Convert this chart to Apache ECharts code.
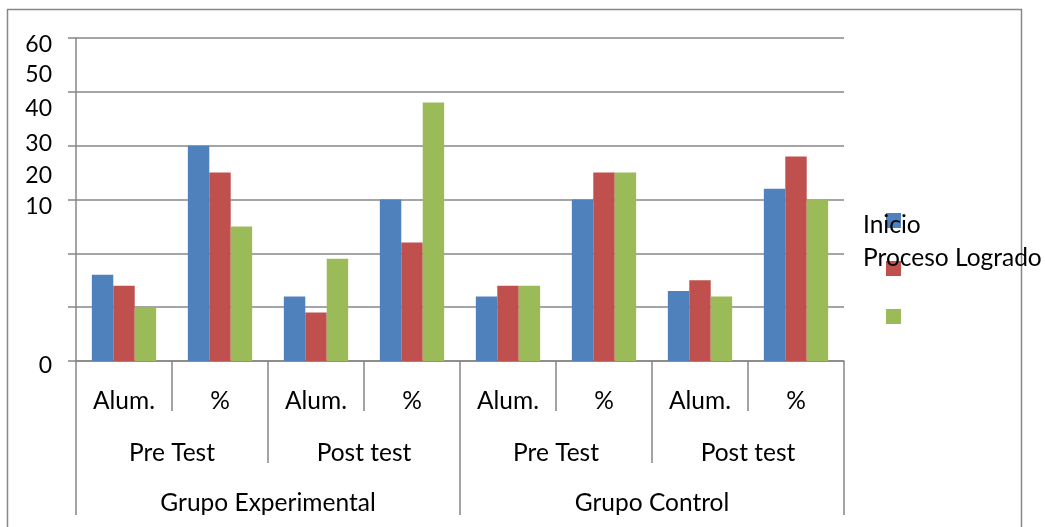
<!DOCTYPE html>
<html>
<head>
<meta charset="utf-8">
<script src="https://cdn.jsdelivr.net/npm/echarts@6/dist/echarts.min.js"></script>
<style>
html,body{margin:0;padding:0;background:#fff;}
#chart{width:1045px;height:527px;}
</style>
</head>
<body>
<div id="chart"></div>
<script>
// ---- data ----
var subCategories = ['Alum.', '%', 'Alum.', '%', 'Alum.', '%', 'Alum.', '%'];
var testCategories = ['Pre Test', 'Post test', 'Pre Test', 'Post test'];
var groupCategories = ['Grupo Experimental', 'Grupo Control'];
var seriesNames = ['Inicio', 'Proceso', 'Logrado'];
var inicio  = [16, 40, 12, 30, 12, 30, 13, 32];
var proceso = [14, 35,  9, 22, 14, 35, 15, 38];
var logrado = [10, 25, 19, 48, 14, 35, 12, 30];
var yTickLabels = ['60', '50', '40', '30', '20', '10', '0'];
var legendTexts = ['Inicio', 'Proceso Logrado'];

// ---- styling ----
var FONT = 'Lato';
var GRAY = '#878787';
var colors = ['#4F81BD', '#C0504D', '#9BBB59'];
var yLabelCenters = [45, 75, 109, 144, 176, 207, 366];
var legendTextCenters = [225, 258];
var XFS = 24.5;

var chart = echarts.init(document.getElementById('chart'), null, {renderer: 'canvas'});

var graphics = [{
  type: 'rect', z: 0, silent: true,
  shape: {x: 7.5, y: 9.5, width: 1014, height: 540},
  style: {fill: 'none', stroke: GRAY, lineWidth: 1.5}
}];
yTickLabels.forEach(function (t, i) {
  graphics.push({
    type: 'text', z: 10, silent: true,
    style: {x: 52, y: yLabelCenters[i], text: t, fill: '#000', font: '23px ' + FONT,
            textAlign: 'right', textVerticalAlign: 'middle'}
  });
});
legendTexts.forEach(function (t, i) {
  graphics.push({
    type: 'text', z: 100, silent: true,
    style: {x: 863, y: legendTextCenters[i], text: t, fill: '#000', font: XFS + 'px ' + FONT,
            textAlign: 'left', textVerticalAlign: 'middle'}
  });
});

function bar(name, data, color) {
  return {
    name: name, type: 'bar', data: data, xAxisIndex: 0, yAxisIndex: 0,
    barGap: '0%', barCategoryGap: '33%',
    itemStyle: {color: color}
  };
}

var option = {
  animation: false,
  textStyle: {fontFamily: FONT},
  color: colors,
  grid: {left: 76, right: 201, top: 38, bottom: 166, containLabel: false},
  legend: {
    orient: 'vertical', left: 886, top: 213, padding: 0,
    itemWidth: 15, itemHeight: 15, itemGap: 33,
    icon: 'rect', data: seriesNames,
    formatter: function () { return ''; },
    textStyle: {fontSize: 1}
  },
  yAxis: {
    type: 'value', min: 0, max: 60, interval: 10,
    axisLine: {show: true, lineStyle: {color: GRAY, width: 1.5}},
    axisTick: {show: true, length: 8, lineStyle: {color: GRAY, width: 1.5}},
    axisLabel: {show: false},
    splitLine: {show: true, lineStyle: {color: GRAY, width: 1.5}}
  },
  xAxis: [{
    type: 'category', data: subCategories, position: 'bottom',
    axisLine: {show: true, lineStyle: {color: GRAY, width: 1.5}},
    axisTick: {show: true, interval: 0, length: 50, lineStyle: {color: GRAY, width: 1.5}},
    axisLabel: {interval: 0, margin: 28, color: '#000', fontSize: XFS, fontFamily: FONT}
  }, {
    type: 'category', data: testCategories, position: 'bottom', offset: 50,
    axisLine: {show: false},
    axisTick: {show: true, interval: 0, length: 52, lineStyle: {color: GRAY, width: 1.5}},
    axisLabel: {interval: 0, margin: 30, color: '#000', fontSize: XFS, fontFamily: FONT}
  }, {
    type: 'category', data: groupCategories, position: 'bottom', offset: 102,
    axisLine: {show: false},
    axisTick: {show: true, interval: 0, length: 52, lineStyle: {color: GRAY, width: 1.5}},
    axisLabel: {interval: 0, margin: 28, color: '#000', fontSize: XFS, fontFamily: FONT}
  }],
  series: [
    bar(seriesNames[0], inicio, colors[0]),
    bar(seriesNames[1], proceso, colors[1]),
    bar(seriesNames[2], logrado, colors[2])
  ],
  graphic: graphics
};
chart.setOption(option);
</script>
</body>
</html>
